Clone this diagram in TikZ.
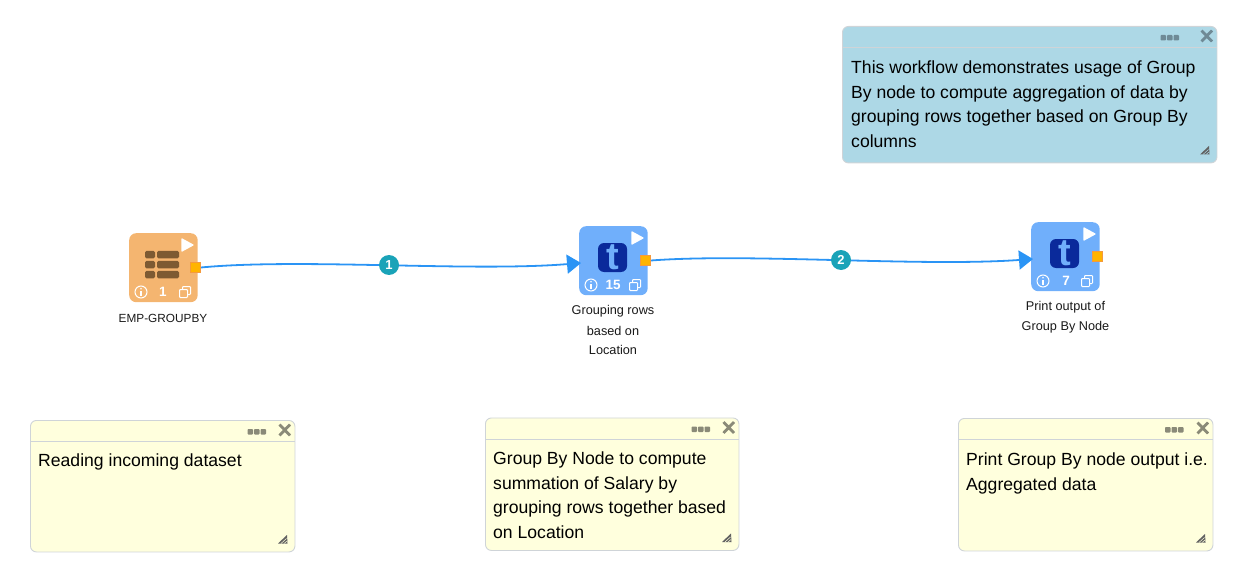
\documentclass[tikz,border=0pt]{standalone}
\usepackage{fontspec}
\setmainfont{Liberation Sans}
\usetikzlibrary{arrows.meta}
\definecolor{cardorange}{HTML}{F4B570}
\definecolor{cardblue}{HTML}{70AFFB}
\definecolor{portfill}{HTML}{FFB400}
\definecolor{portedge}{HTML}{F59A3C}
\definecolor{tablebrown}{HTML}{7D5A32}
\definecolor{navy}{HTML}{0A2A9B}
\definecolor{linkblue}{HTML}{2A94F5}
\definecolor{badge}{HTML}{1AA3B8}
\definecolor{noteblue}{HTML}{ADD8E6}
\definecolor{noteyellow}{HTML}{FFFFDD}
\definecolor{noteedge}{HTML}{CFD4D8}
\definecolor{icongray}{HTML}{8A8A78}
\definecolor{icongrayb}{HTML}{6F8A96}
\tikzset{
  x=1pt,y=-1pt,
  card/.style={draw=none,fill=#1,rounded corners=7pt,minimum width=68.5pt,minimum height=69pt,inner sep=0pt,anchor=north west},
  port/.style={draw=portedge,line width=.8pt,fill=portfill,minimum size=10pt,inner sep=0pt},
  lbl/.style={font=\fontsize{12.7}{12.7}\selectfont,text=black!90,inner sep=0pt,anchor=center},
  num/.style={font=\bfseries\fontsize{13.5}{13.5}\selectfont,text=white,inner sep=0pt},
  link/.style={draw=linkblue,line width=1.8pt,-{Triangle[length=14pt,width=19pt]}},
  badgenode/.style={circle,fill=badge,minimum size=20pt,inner sep=0pt,text=white,font=\bfseries\fontsize{13}{13}\selectfont},
  notebox/.style={draw=noteedge,line width=.9pt,rounded corners=6pt,anchor=north west,inner sep=0pt},
  notetext/.style={font=\fontsize{17.6}{24.6}\selectfont,anchor=north west,inner sep=0pt,align=left,text=black},
  tsquare/.style={fill=navy,rounded corners=6pt,minimum size=29pt,inner sep=0pt},
  tglyph/.style={font=\bfseries\fontsize{38}{38}\selectfont,text=cardblue,inner sep=0pt},
}
% card: name, x, y, colour
\newcommand{\cardbase}[4]{%
  \node[card=#4] (#1) at (#2,#3) {};
  \begin{scope}[shift={(#2,#3)}]
    \fill[white,draw=white,line width=1.2pt,line join=round] (53,6) -- (64,12) -- (53,18) -- cycle;
    \draw[white,line width=1pt] (12,59) circle (6);
    \fill[white] (12,55.8) circle (.9);
    \draw[white,line width=1.2pt] (12,58) -- (12,62.8);
    \draw[white,line width=1pt,rounded corners=.8pt] (50.5,56.5) rectangle (58.5,64.5);
    \draw[white,line width=1pt,rounded corners=.8pt] (53.5,56.5) -- (53.5,53.5) -- (61.5,53.5) -- (61.5,61.5) -- (58.5,61.5);
  \end{scope}
  \node[port] (#1port) at (#2+66.5,#3+34.5) {};
}
% note: name, x, y, w, h, fill, icon colour, dots offset
\newcommand{\notebase}[8]{%
  \node[notebox,fill=#6,minimum width=#4pt,minimum height=#5pt] (#1) at (#2,#3) {};
  \draw[noteedge,line width=.7pt] (#2,#3+21.5) -- (#2+#4,#3+21.5);
  \begin{scope}[shift={(#2+#4,#3)}]
    \foreach \dx in {0,6.5,13}
      \fill[#7,rounded corners=.8pt] (#8+\dx,9) rectangle ++(5.5,5.5);
    \draw[#7,line width=2.8pt] (-15,4.5) -- (-4.5,15.5) (-4.5,4.5) -- (-15,15.5);
  \end{scope}
  \begin{scope}[shift={(#2+#4,#3+#5)}]
    \fill[black!62] (-16.5,-8) -- (-7.5,-16.5) -- (-7,-8) -- cycle;
    \draw[#6,line width=.5pt] (-13.5,-8) -- (-8,-13) (-10.5,-8) -- (-7.5,-10.5);
  \end{scope}
}
\begin{document}
\begin{tikzpicture}
\useasboundingbox (0,0) rectangle (1258,572);

% cards
\cardbase{a}{129}{233}{cardorange}
\node[num] (an) at (163,292) {1};
\foreach \ry in {18,28,38}{
  \fill[tablebrown,rounded corners=1.5pt] (145,233+\ry-.2) rectangle ++(10,7.5);
  \fill[tablebrown,rounded corners=1.5pt] (157,233+\ry-.2) rectangle ++(22,7.5);
}
\cardbase{b}{579}{226}{cardblue}
\node[num] (bn) at (613,285) {15};
\node[tsquare] (bt) at (612.5,257.5) {};
\node[tglyph] (btg) at (612.5,257) {t};
\cardbase{c}{1031}{222}{cardblue}
\node[num] (cn) at (1066,281) {7};
\node[tsquare] (ct) at (1064.5,253.5) {};
\node[tglyph] (ctg) at (1064.5,253) {t};

% labels
\node[lbl,font=\fontsize{11.8}{11.8}\selectfont] (la) at (163,318.5) {EMP-GROUPBY};
\node[lbl] (lb1) at (613,311.5) {Grouping rows};
\node[lbl] (lb2) at (613,330.5) {based on};
\node[lbl] (lb3) at (613,349.5) {Location};
\node[lbl] (lc1) at (1065.5,307.5) {Print output of};
\node[lbl] (lc2) at (1065.5,327.5) {Group By Node};

% connectors
\draw[link] (aport.east) .. controls (300,258) and (470,272) .. ([xshift=2pt]b.west |- 0,263);
\draw[link] (bport.east) .. controls (750,253) and (920,267) .. ([xshift=2pt]c.west |- 0,259);
\node[port] at (aport) {};
\node[port] at (bport) {};
\node[badgenode] (n1) at (389,265) {1};
\node[badgenode] (n2) at (841,260) {2};

% notes
\notebase{nb}{842}{26}{374.5}{136.5}{noteblue}{icongrayb}{-56}
\node[notetext] (tb) at (851,60.8) {This workflow demonstrates usage of Group\\By node to compute aggregation of data by\\grouping rows together based on Group By\\columns};
\notebase{ny1}{30}{420}{264.5}{131.5}{noteyellow}{icongray}{-47}
\node[notetext] (t1) at (38,453.8) {Reading incoming dataset};
\notebase{ny2}{485}{417.5}{253.5}{132.5}{noteyellow}{icongray}{-47}
\node[notetext] (t2) at (493,451.8) {Group By Node to compute\\summation of Salary by\\grouping rows together based\\on Location};
\notebase{ny3}{958}{418}{254.5}{132.5}{noteyellow}{icongray}{-47.5}
\node[notetext] (t3) at (966,452.8) {Print Group By node output i.e.\\Aggregated data};
\end{tikzpicture}
\end{document}
